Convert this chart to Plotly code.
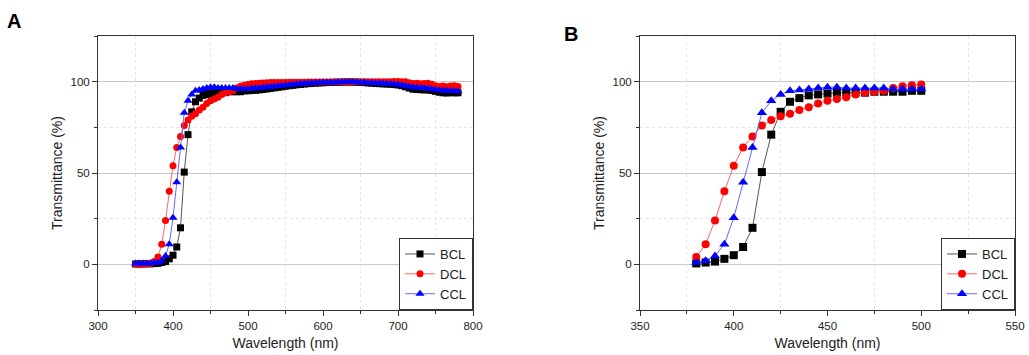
import plotly.graph_objects as go

# ---------------- data ----------------
wl_A = list(range(350, 785, 5))

bcl_A = [0.2, 0.2, 0.2, 0.3, 0.3, 0.4,
         0.5, 1, 1.5, 3, 5, 9.5, 20, 50.5, 71, 83.5, 89, 91, 92.5, 93, 93.5, 94, 94, 94, 94, 94.5, 94.5, 94.5, 94.5, 95, 95,
         95.2, 95.3, 95.5, 95.7, 96, 96.3, 96.6, 96.9, 97.2, 97.5,
         97.8, 98, 98.3, 98.5, 98.7, 98.9, 99.1, 99.2, 99.3, 99.4,
         99.5, 99.6, 99.6, 99.7, 99.7, 99.8, 99.8, 99.8, 99.7, 99.6,
         99.5, 99.3, 99.2, 99, 98.9, 98.8, 98.7, 98.6, 98.4, 98.2,
         97.8, 97.2, 96.5, 95.9, 95.7, 95.6, 95.5, 95.5, 95.2, 94.7,
         94.2, 93.9, 93.8, 94, 93.9, 93.9]

dcl_A = [0.1, 0.1, 0.2, 0.3, 0.6, 1.5,
         4, 11, 24, 40, 54, 64, 70, 76, 79, 81, 82.5, 84.5, 86, 88, 89.5, 90.5, 91.5, 93, 94, 94.5, 95, 96.5, 97.5, 98, 98.5,
         98.8, 99, 99.2, 99.3, 99.4, 99.5, 99.5, 99.6, 99.6, 99.6,
         99.7, 99.7, 99.7, 99.7, 99.7, 99.8, 99.8, 99.8, 99.8, 99.8,
         99.8, 99.8, 99.8, 99.8, 99.8, 99.8, 99.8, 99.8, 99.9, 99.9,
         99.9, 99.9, 99.9, 99.9, 99.9, 99.9, 100, 100, 100.1, 100.1,
         100, 100, 99.4, 99, 99.2, 98.9, 99, 99.2, 98.6, 97.8,
         97.3, 97.6, 97.2, 97.6, 97.8, 97.3]

ccl_A = [0.5, 0.5, 0.5, 0.5, 0.6, 0.8,
         1, 2, 4.5, 11, 25.5, 45, 64, 83, 89.5, 93, 95, 95.5, 96, 96.5, 97, 97, 96.5, 96.5, 96.5, 96.5, 96.5, 96, 96, 96, 96,
         96.2, 96.4, 96.6, 96.8, 97, 97.2, 97.4, 97.6, 97.8, 98,
         98.2, 98.4, 98.6, 98.8, 99, 99.1, 99.2, 99.3, 99.4, 99.5,
         99.5, 99.6, 99.6, 99.7, 99.7, 99.8, 99.8, 99.8, 99.7, 99.6,
         99.5, 99.4, 99.3, 99.2, 99.1, 99, 98.9, 98.8, 98.6, 98.4,
         98.1, 97.7, 97.3, 97, 96.8, 96.6, 96.5, 96.3, 96, 95.6,
         95.3, 95.1, 95, 95, 94.9, 94.8]

wl_B = [380, 385, 390, 395, 400, 405, 410, 415, 420, 425, 430, 435, 440,
        445, 450, 455, 460, 465, 470, 475, 480, 485, 490, 495, 500]
bcl_B = [0.5, 1, 1.5, 3, 5, 9.5, 20, 50.5, 71, 83.5, 89, 91, 92.5,
         93, 93.5, 94, 94, 94, 94, 94.5, 94.5, 94.5, 94.5, 95, 95]
dcl_B = [4, 11, 24, 40, 54, 64, 70, 76, 79, 81, 82.5, 84.5, 86,
         88, 89.5, 90.5, 91.5, 93, 94, 94.5, 95, 96.5, 97.5, 98, 98.5]
ccl_B = [1, 2, 4.5, 11, 25.5, 45, 64, 83, 89.5, 93, 95, 95.5, 96,
         96.5, 97, 97, 96.5, 96.5, 96.5, 96.5, 96.5, 96, 96, 96, 96]

series_names = ["BCL", "DCL", "CCL"]
colors = ["#000000", "#ff0000", "#0000ff"]
line_colors = ["#555555", "#ff6666", "#6666ff"]
symbols = ["square", "circle", "triangle-up"]

W, H = 1029, 355
FONT = "Liberation Sans, Arial, sans-serif"
TXT = "#222222"
MINOR_GRID = "#e6e6e6"

fig = go.Figure()

def add_panel(xs, ys_list, xaxis, yaxis, legend, msize):
    for name, ys, c, lc, sym in zip(series_names, ys_list, colors, line_colors, symbols):
        fig.add_trace(go.Scatter(
            x=xs, y=ys, name=name, mode="lines+markers",
            xaxis=xaxis, yaxis=yaxis, legend=legend,
            line=dict(color=lc, width=1),
            marker=dict(symbol=sym, color=c, size=msize if sym != "triangle-up" else msize + 1,
                        line=dict(width=0)),
        ))

add_panel(wl_A, [bcl_A, dcl_A, ccl_A], "x", "y", "legend", 7)
add_panel(wl_B, [bcl_B, dcl_B, ccl_B], "x2", "y2", "legend2", 8)

# pixel geometry
axA = (98, 473)
axB = (640, 1015)
top, bottom = 36, 310

def px(a, b):
    return [a / W, b / W]

ydom = [1 - bottom / H, 1 - top / H]

common_axis = dict(
    showline=True, linecolor="#333333", linewidth=1, mirror=True,
    ticks="outside", ticklen=5, tickwidth=1, tickcolor="#333333",
    tickfont=dict(family=FONT, size=11.5, color=TXT),
    zeroline=False, automargin=False,
)
xcommon = dict(common_axis, showgrid=False,
               title=dict(text="Wavelength (nm)", font=dict(family=FONT, size=14, color=TXT), standoff=7))
ycommon = dict(common_axis, range=[-25, 125], tickvals=[0, 50, 100],
               showgrid=True, gridcolor="#c8c8c8", gridwidth=1,
               minor=dict(tickvals=[-25, 25, 75, 125], ticks="outside", ticklen=3, tickcolor="#333333",
                          showgrid=True, gridcolor=MINOR_GRID, griddash="dot"),
               title=dict(text="Transmittance (%)", font=dict(family=FONT, size=14, color=TXT), standoff=4))

legend_common = dict(xanchor="right", yanchor="bottom",
                     bgcolor="white", bordercolor="#333333", borderwidth=1,
                     font=dict(family=FONT, size=13, color=TXT),
                     tracegroupgap=0, itemwidth=30)

fig.update_layout(
    width=W, height=H,
    margin=dict(l=0, r=0, t=0, b=0),
    paper_bgcolor="white", plot_bgcolor="white",
    font=dict(family=FONT, color=TXT),
    xaxis=dict(xcommon, domain=px(*axA), anchor="y", range=[300, 800], tickvals=[300, 400, 500, 600, 700, 800],
               minor=dict(tickvals=[350, 450, 550, 650, 750], ticks="outside", ticklen=3, tickcolor="#333333",
                          showgrid=True, gridcolor=MINOR_GRID, griddash="dot")),
    yaxis=dict(ycommon, domain=ydom, anchor="x"),
    xaxis2=dict(xcommon, domain=px(*axB), anchor="y2", range=[350, 550], tickvals=[350, 400, 450, 500, 550],
                minor=dict(tickvals=[375, 425, 475, 525], ticks="outside", ticklen=3, tickcolor="#333333",
                           showgrid=True, gridcolor=MINOR_GRID, griddash="dot")),
    yaxis2=dict(ycommon, domain=ydom, anchor="x2"),
    legend=dict(legend_common, x=axA[1] / W, y=1 - bottom / H),
    legend2=dict(legend_common, x=axB[1] / W, y=1 - bottom / H),
    showlegend=True,
)

fig.add_annotation(text="<b>A</b>", x=14 / W, y=1 - 21 / H, xref="paper", yref="paper",
                   xanchor="center", yanchor="middle",
                   showarrow=False, font=dict(family=FONT, size=20, color="black"))
fig.add_annotation(text="<b>B</b>", x=571 / W, y=1 - 34 / H, xref="paper", yref="paper",
                   xanchor="center", yanchor="middle",
                   showarrow=False, font=dict(family=FONT, size=20, color="black"))

fig.write_html("out.html", config={"displayModeBar": False},
               post_script="document.body.style.margin='0';document.body.style.overflow='hidden';")
